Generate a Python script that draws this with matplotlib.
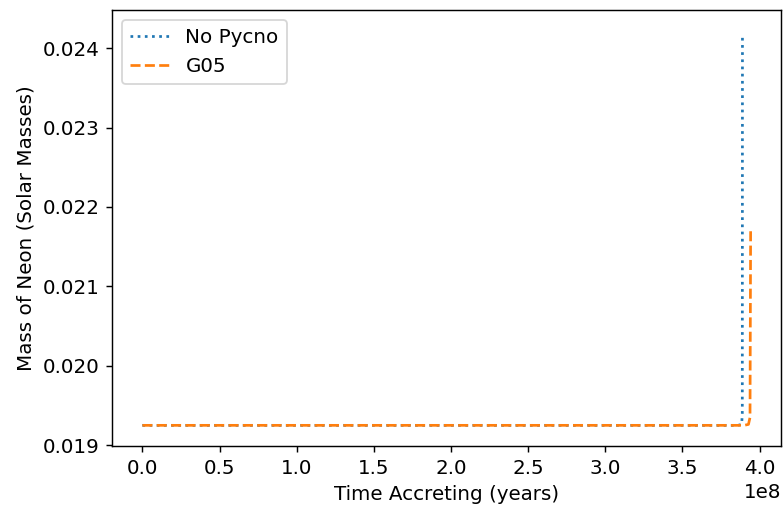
import matplotlib
matplotlib.use("Agg")
import matplotlib.pyplot as plt

# accretion time (years) and total neon mass (solar masses)
time_no_pycno = [0.0, 1.0e8, 2.0e8, 3.0e8, 3.86e8, 3.884e8, 3.888e8, 3.889e8]
neon_no_pycno = [0.01925, 0.01925, 0.01925, 0.01925, 0.01925, 0.019262, 0.01940, 0.02417]

time_g05 = [0.0, 1.0e8, 2.0e8, 3.0e8, 3.90e8, 3.928e8, 3.938e8, 3.942e8]
neon_g05 = [0.01925, 0.01925, 0.01925, 0.01925, 0.01925, 0.019262, 0.01935, 0.02171]

plt.rcParams["font.family"] = "DejaVu Sans"
plt.rcParams["font.size"] = 11

fig = plt.figure(figsize=(783 / 130, 510 / 130), dpi=130)
ax = fig.add_axes([0.143, 0.1255, 0.8545, 0.8545])

ax.plot(time_no_pycno, neon_no_pycno, linestyle=":", color="#1f77b4", linewidth=1.5, label="No Pycno")
ax.plot(time_g05, neon_g05, linestyle="--", color="#ff7f0e", linewidth=1.5, label="G05")

ax.set_ylim(0.01899, 0.024477)
ax.set_xlabel("Time Accreting (years)")
ax.set_ylabel("Mass of Neon (Solar Masses)")
ax.legend(loc="upper left")

fig.savefig("out.png", dpi=130)
